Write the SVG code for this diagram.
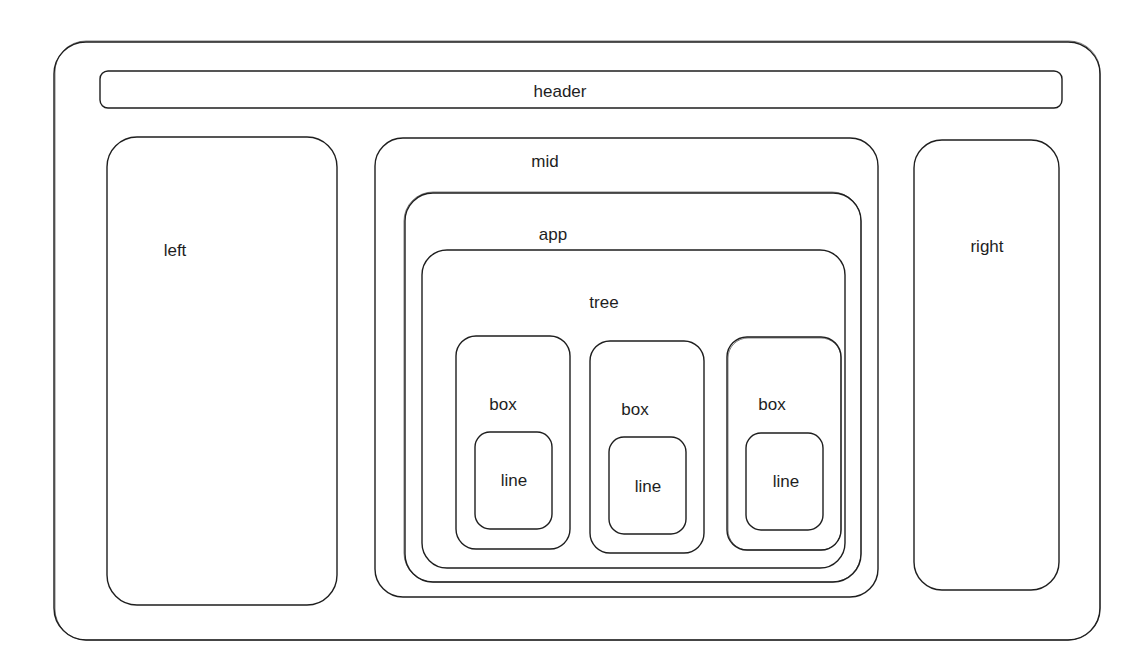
<svg xmlns="http://www.w3.org/2000/svg" width="1131" height="666" viewBox="0 0 1131 666">
<style>
rect{fill:none;stroke:#1e1e1e;stroke-width:1.4}
.s{stroke-width:0.8;opacity:0.7}
text{font-family:"Liberation Sans","DejaVu Sans",sans-serif;font-size:17px;fill:#1e1e1e;text-anchor:middle;dominant-baseline:central}
</style>
<rect x="0" y="0" width="1131" height="666" fill="#fff" style="fill:#fff;stroke:none"/>
<g id="outer"><rect x="54" y="42" width="1046" height="598" rx="32"/><rect class="s" x="55" y="41" width="1045" height="599" rx="31"/></g>
<g id="header"><rect x="100" y="71" width="962" height="37" rx="8"/><text x="560" y="91">header</text></g>
<g id="left"><rect x="107" y="137" width="230" height="468" rx="30"/><text x="175" y="250">left</text></g>
<g id="mid"><rect x="375" y="138" width="503" height="459" rx="28"/><text x="545" y="161">mid</text></g>
<g id="app"><rect x="405" y="193" width="456" height="389" rx="28"/><rect class="s" x="404" y="192" width="457" height="390" rx="29"/><text x="553" y="234">app</text></g>
<g id="tree"><rect x="422" y="250" width="423" height="318" rx="25"/><text x="604" y="302">tree</text></g>
<g id="box1"><rect x="456" y="336" width="114" height="213" rx="20"/><text x="503" y="404">box</text></g>
<g id="line1"><rect x="475" y="432" width="77" height="97" rx="15"/><text x="514" y="480">line</text></g>
<g id="box2"><rect x="590" y="341" width="114" height="212" rx="20"/><text x="635" y="409">box</text></g>
<g id="line2"><rect x="609" y="437" width="77" height="97" rx="15"/><text x="648" y="486">line</text></g>
<g id="box3"><rect x="727" y="337" width="114" height="213" rx="20"/><rect class="s" x="728" y="338" width="113" height="212" rx="20"/><text x="772" y="404">box</text></g>
<g id="line3"><rect x="746" y="433" width="77" height="97" rx="15"/><text x="786" y="481">line</text></g>
<g id="right"><rect x="914" y="140" width="145" height="450" rx="28"/><text x="987" y="246">right</text></g>
<g id="connectors"></g>
</svg>
